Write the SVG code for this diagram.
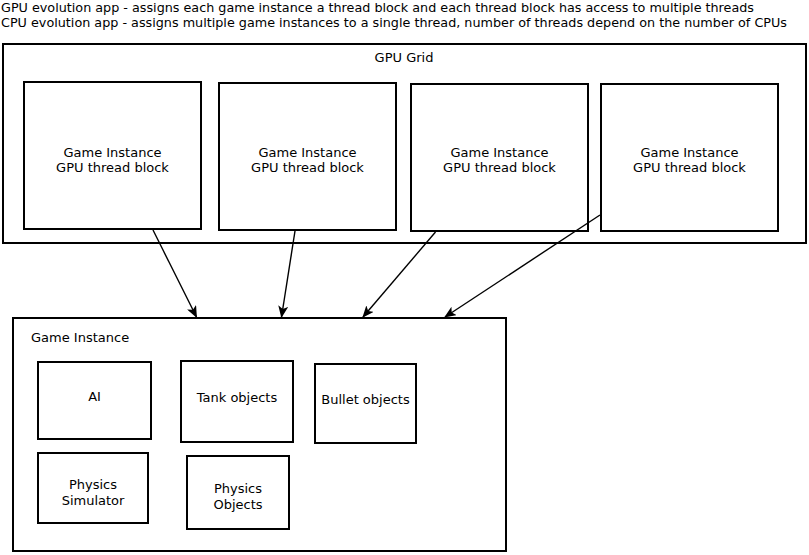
<svg xmlns="http://www.w3.org/2000/svg" width="809" height="555" viewBox="0 0 809 555">
<defs>
<style>
.box{fill:#fff;stroke:#000;stroke-width:2}
.t{font-family:"DejaVu Sans",sans-serif;font-size:13px;fill:#000}
.c{text-anchor:middle}
.hdr{font-family:"DejaVu Sans",sans-serif;font-size:12.8px;fill:#000}
.conn{stroke:#000;stroke-width:1.4;fill:none;marker-end:url(#ah)}
</style>
<marker id="ah" viewBox="0 0 12 10" refX="11" refY="5" markerWidth="12" markerHeight="10" markerUnits="userSpaceOnUse" orient="auto">
<path d="M0,0 L12,5 L0,10 L3,5 Z" fill="#000"/>
</marker>
</defs>
<rect width="809" height="555" fill="#fff"/>
<g id="header">
<text class="hdr" x="1" y="12" textLength="753" lengthAdjust="spacingAndGlyphs">GPU evolution app - assigns each game instance a thread block and each thread block has access to multiple threads</text>
<text class="hdr" x="1" y="27" textLength="786" lengthAdjust="spacingAndGlyphs">CPU evolution app - assigns multiple game instances to a single thread, number of threads depend on the number of CPUs</text>
</g>
<g id="gpu-grid">
<rect class="box" x="3" y="44" width="803" height="199"/>
<text class="t c" x="404" y="62">GPU Grid</text>
</g>
<g id="block1">
<rect class="box" x="24" y="82" width="177" height="147"/>
<text class="t c" x="112.5" y="157">Game Instance</text>
<text class="t c" x="112.5" y="172">GPU thread block</text>
</g>
<g id="block2">
<rect class="box" x="219" y="83" width="177" height="147"/>
<text class="t c" x="307.5" y="157">Game Instance</text>
<text class="t c" x="307.5" y="172">GPU thread block</text>
</g>
<g id="block3">
<rect class="box" x="411" y="84" width="177" height="147"/>
<text class="t c" x="499.5" y="157">Game Instance</text>
<text class="t c" x="499.5" y="172">GPU thread block</text>
</g>
<g id="block4">
<rect class="box" x="601" y="84" width="177" height="147"/>
<text class="t c" x="689.5" y="157">Game Instance</text>
<text class="t c" x="689.5" y="172">GPU thread block</text>
</g>
<g id="game-instance">
<rect class="box" x="13" y="318" width="493" height="233"/>
<text class="t" x="31" y="342">Game Instance</text>
</g>
<g id="ai">
<rect class="box" x="38" y="362" width="113" height="77"/>
<text class="t c" x="94.5" y="401">AI</text>
</g>
<g id="tank">
<rect class="box" x="181" y="361" width="112" height="81"/>
<text class="t c" x="237" y="402">Tank objects</text>
</g>
<g id="bullet">
<rect class="box" x="315" y="364" width="101" height="79"/>
<text class="t c" x="365.5" y="404">Bullet objects</text>
</g>
<g id="physics-sim">
<rect class="box" x="38" y="453" width="110" height="70"/>
<text class="t c" x="93" y="489">Physics</text>
<text class="t c" x="93" y="505">Simulator</text>
</g>
<g id="physics-obj">
<rect class="box" x="187" y="456" width="102" height="73"/>
<text class="t c" x="238" y="493">Physics</text>
<text class="t c" x="238" y="509">Objects</text>
</g>
<g id="connectors">
<line class="conn" x1="153" y1="230" x2="196.5" y2="317"/>
<line class="conn" x1="295" y1="231" x2="281.5" y2="317"/>
<line class="conn" x1="435.5" y1="232" x2="363" y2="317"/>
<line class="conn" x1="600" y1="215" x2="445" y2="317"/>
</g>
</svg>
